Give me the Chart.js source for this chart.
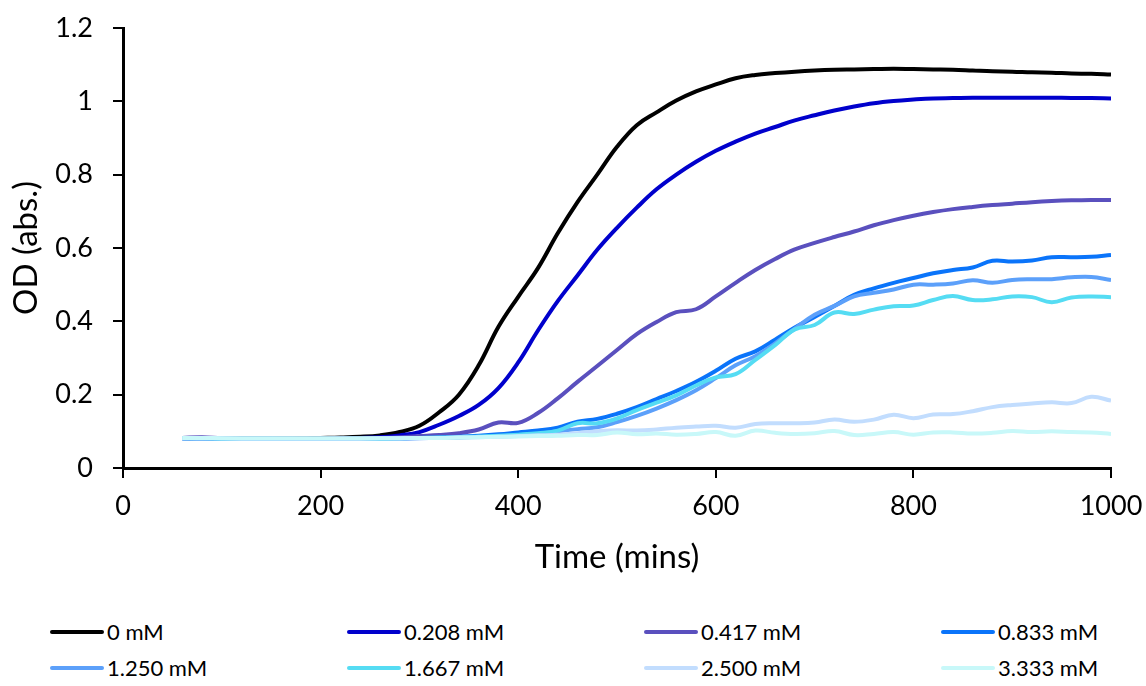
<!DOCTYPE html>
<html>
<head>
<meta charset="utf-8">
<script src="https://cdn.jsdelivr.net/npm/chart.js@4"></script>
<style>
  html, body { margin: 0; padding: 0; background: #fff; }
  #wrap { position: relative; width: 1146px; height: 686px; font-family: Lato, "Open Sans", sans-serif; }
  #box { position: absolute; left: 0; top: 0; width: 1146px; height: 580px; }
  #legend { position: absolute; left: 0; top: 618px; width: 1146px; }
  .item { position: absolute; display: flex; align-items: center; font-size: 22px; line-height: 28px; color: #000; white-space: nowrap; }
  .item span.line { display: inline-block; width: 54px; height: 4px; border-radius: 2px; margin-right: 3px; }
</style>
</head>
<body>
<div id="wrap">
  <div id="box"><canvas id="myChart"></canvas></div>
  <div id="legend"></div>
</div>
<script>
// time (mins)
const times = [60, 80, 100, 120, 140, 160, 180, 200, 220, 240, 260, 280, 300, 320, 340, 360, 380, 400, 420, 440,
  460, 480, 500, 520, 540, 560, 580, 600, 620, 640, 660, 680, 700, 720, 740, 760, 780, 800, 820, 840,
  860, 880, 900, 920, 940, 960, 980, 1000];

// OD per concentration
const od0 = [.082, .082, .081, .081, .081, .081, .081, .082, .083, .085, .089, .098, .115, .152, .200, .280, .385, .467, .545, .640,
  .725, .800, .876, .935, .970, 1.002, 1.027, 1.046, 1.063, 1.072, 1.077, 1.081, 1.084, 1.086, 1.087, 1.088, 1.089, 1.088, 1.087, 1.086,
  1.084, 1.082, 1.081, 1.079, 1.078, 1.076, 1.075, 1.073];
const od208 = [.081, .081, .080, .080, .080, .080, .080, .080, .081, .082, .084, .089, .098, .118, .142, .172, .218, .288, .375, .455,
  .525, .595, .655, .710, .760, .800, .835, .865, .890, .912, .930, .948, .962, .975, .986, .995, 1.001, 1.005, 1.008, 1.009,
  1.010, 1.010, 1.010, 1.010, 1.010, 1.009, 1.009, 1.008];
const od417 = [.082, .084, .081, .080, .080, .080, .080, .080, .080, .081, .082, .084, .087, .090, .095, .105, .124, .123, .150, .190,
  .235, .278, .322, .365, .398, .425, .433, .468, .505, .540, .570, .596, .614, .630, .645, .662, .676, .688, .698, .706,
  .712, .717, .721, .725, .728, .730, .731, .731];
const od833 = [.081, .081, .080, .080, .080, .079, .079, .079, .079, .080, .080, .081, .082, .083, .085, .088, .092, .097, .102, .110,
  .126, .134, .148, .166, .188, .210, .235, .265, .298, .318, .350, .383, .412, .442, .472, .490, .505, .518, .531, .540,
  .547, .565, .563, .566, .575, .575, .576, .581];
const od1250 = [.081, .080, .080, .080, .080, .080, .079, .079, .079, .079, .080, .080, .081, .082, .083, .085, .087, .090, .093, .100,
  .106, .111, .125, .142, .162, .185, .212, .245, .280, .305, .340, .380, .418, .442, .468, .478, .487, .500, .500, .503,
  .512, .505, .513, .515, .515, .520, .521, .513];
const od1667 = [.081, .081, .080, .080, .080, .080, .080, .080, .080, .080, .080, .081, .082, .083, .084, .086, .088, .091, .095, .102,
  .122, .122, .135, .158, .178, .198, .225, .247, .256, .295, .335, .378, .390, .424, .420, .432, .441, .443, .458, .469,
  .458, .460, .468, .466, .452, .465, .468, .466];
const od2500 = [.082, .081, .081, .080, .080, .080, .080, .080, .080, .080, .081, .081, .082, .082, .083, .084, .085, .087, .089, .091,
  .095, .100, .103, .102, .105, .110, .113, .115, .110, .120, .122, .122, .124, .132, .126, .132, .145, .136, .146, .147,
  .155, .166, .172, .176, .179, .177, .194, .184];
const od3333 = [.082, .082, .081, .081, .081, .081, .081, .081, .081, .081, .081, .081, .082, .082, .083, .084, .085, .086, .087, .088,
  .090, .090, .097, .092, .094, .091, .093, .098, .088, .102, .096, .093, .095, .101, .090, .093, .098, .091, .097, .097,
  .094, .096, .101, .098, .100, .098, .097, .093];

const seriesNames = ['0 mM', '0.208 mM', '0.417 mM', '0.833 mM', '1.250 mM', '1.667 mM', '2.500 mM', '3.333 mM'];
const seriesValues = [od0, od208, od417, od833, od1250, od1667, od2500, od3333];
const colors = ['#000000', '#0000CC', '#5A50BE', '#0A74FA', '#5CA0FA', '#55DCF3', '#C2DDFE', '#C8F8F9'];

const yTicks = [0, 0.2, 0.4, 0.6, 0.8, 1, 1.2];
const xTicks = [0, 200, 400, 600, 800, 1000];

const FONT = 'Lato';

const datasets = seriesValues.map((vals, i) => ({
    label: seriesNames[i],
    data: times.map((t, j) => ({ x: t, y: vals[j] })),
    borderColor: colors[i],
    backgroundColor: colors[i],
    borderWidth: 4,
    pointRadius: 0,
    tension: 0.4,
    fill: false,
    order: seriesNames.length - i
}));

const config = {
    type: 'line',
    data: { datasets: datasets },
    options: {
        responsive: true,
        maintainAspectRatio: false,
        animation: false,
        layout: { padding: { left: 7, top: 28, right: 35, bottom: 3 } },
        plugins: {
            legend: { display: false },
            tooltip: { enabled: false }
        },
        scales: {
            x: {
                type: 'linear',
                min: 0,
                max: 1000,
                afterBuildTicks: scale => { scale.ticks = xTicks.map(v => ({ value: v })); },
                afterFit: scale => { scale.height = 109; scale.paddingLeft = 0; scale.paddingRight = 0; },
                border: { color: '#000', width: 3 },
                grid: { drawOnChartArea: false, drawTicks: true, tickLength: 10, color: '#000', lineWidth: 2 },
                ticks: { color: '#000', padding: 12, maxRotation: 0, font: { family: FONT, size: 27 }, callback: v => String(v) },
                title: { display: true, text: 'Time (mins)', color: '#000', padding: 0, font: { family: FONT, size: 33 } }
            },
            y: {
                min: 0,
                max: 1.2,
                afterBuildTicks: scale => { scale.ticks = yTicks.map(v => ({ value: v })); },
                afterFit: scale => { scale.width = 116; scale.paddingTop = 0; scale.paddingBottom = 0; },
                border: { color: '#000', width: 3 },
                grid: { drawOnChartArea: false, drawTicks: true, tickLength: 10, color: '#000', lineWidth: 2 },
                ticks: { color: '#000', padding: 20, font: { family: FONT, size: 27 }, callback: v => String(v) },
                title: { display: true, text: 'OD (abs.)', color: '#000', padding: 0, font: { family: FONT, size: 33 } }
            }
        }
    }
};

new Chart(document.getElementById('myChart'), config);

// legend, 2 rows x 4 columns
const legendX = [50, 347, 644, 941];
const legendY = [0, 36];
const legendEl = document.getElementById('legend');
seriesNames.forEach((name, i) => {
    const item = document.createElement('div');
    item.className = 'item';
    item.style.left = legendX[i % 4] + 'px';
    item.style.top = legendY[Math.floor(i / 4)] + 'px';
    const line = document.createElement('span');
    line.className = 'line';
    line.style.background = colors[i];
    const txt = document.createElement('span');
    txt.textContent = name;
    item.appendChild(line);
    item.appendChild(txt);
    legendEl.appendChild(item);
});
</script>
</body>
</html>
